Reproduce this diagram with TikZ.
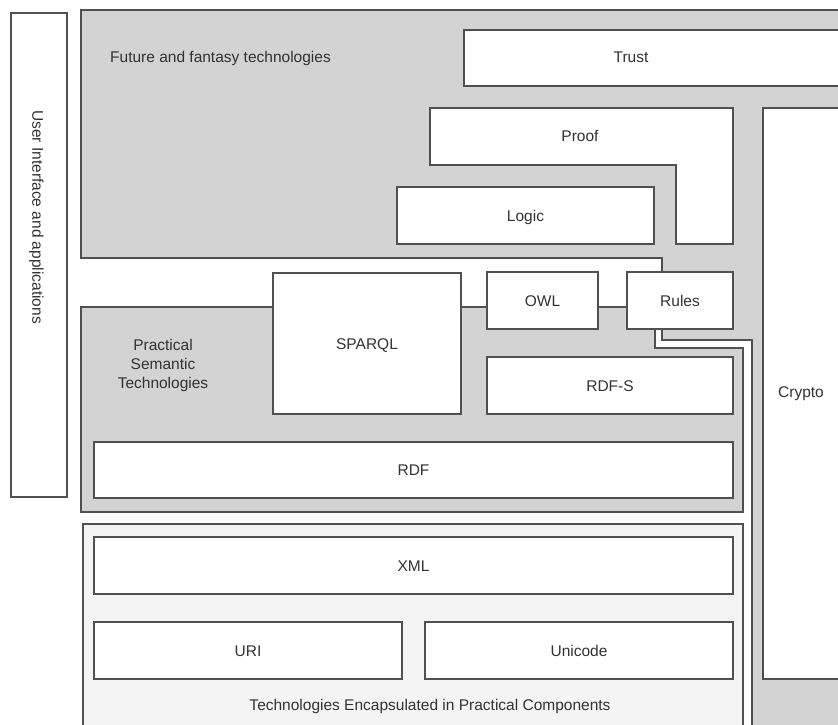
\documentclass[tikz,border=0pt]{standalone}
\usepackage{fontspec}
\setmainfont{Liberation Sans}
\definecolor{regiongray}{RGB}{211,211,211}
\definecolor{lightfill}{RGB}{244,244,244}
\definecolor{edge}{RGB}{80,80,80}
\definecolor{txt}{RGB}{50,50,50}
\begin{document}
\begin{tikzpicture}[x=1pt,y=-1pt,
  lbl/.style={font=\fontsize{15.5}{19}\selectfont, text=txt, inner sep=0pt, text height=11.1pt, text depth=0pt},
  region/.style={draw=edge, line width=1.3pt, fill=regiongray, line join=miter},
  lightregion/.style={draw=edge, line width=1.3pt, fill=lightfill},
  box/.style={draw=edge, line width=1.3pt, fill=white, inner sep=0pt, outer sep=0pt, anchor=north west,
              font=\fontsize{15.5}{19}\selectfont, text=txt, text height=11.1pt, text depth=0pt},
]
\useasboundingbox (0,0) rectangle (838,724);
\clip (0,0) rectangle (838,724);

% Future and fantasy technologies region
\draw[region] (81,10) -- (860,10) -- (860,740) -- (752,740) -- (752,340) -- (662,340) -- (662,258) -- (81,258) -- cycle;
% Practical semantic technologies region
\draw[region] (81,307) -- (655,307) -- (655,348) -- (743,348) -- (743,512) -- (81,512) -- cycle;
% Technologies encapsulated region
\draw[lightregion] (83,524) -- (743,524) -- (743,740) -- (83,740) -- cycle;

% User interface
\node[box, minimum width=56pt, minimum height=484pt] (ui) at (11,13) {};
\node[lbl, rotate=-90] (uitext) at (38,217) {User Interface and applications};

\node[lbl, anchor=west] (futuretext) at (110,57) {Future and fantasy technologies};

% Trust
\node[box, minimum width=400pt, minimum height=56pt] (trust) at (464,30) {};
\node[lbl] (trusttext) at (631,57) {Trust};

% Proof (L-shaped)
\draw[draw=edge, line width=1.3pt, fill=white] (430,108) -- (733,108) -- (733,244) -- (676,244) -- (676,165) -- (430,165) -- cycle;
\node[lbl] (prooftext) at (580,136) {Proof};

% Logic
\node[box, minimum width=257pt, minimum height=57pt] (logic) at (397,187) {Logic};

% Crypto
\node[box, minimum width=100pt, minimum height=571pt] (crypto) at (763,108) {};
\node[lbl] (cryptotext) at (801,392) {Crypto};

% Practical layer
\node[box, minimum width=188pt, minimum height=141pt] (sparql) at (273,273) {SPARQL};
\node[box, minimum width=111pt, minimum height=57pt] (owl) at (487,272) {OWL};
\node[box, minimum width=106pt, minimum height=57pt] (rules) at (627,272) {Rules};
\node[box, minimum width=246pt, minimum height=57pt] (rdfs) at (487,357) {RDF-S};
\node[box, minimum width=639pt, minimum height=56pt] (rdf) at (94,442) {RDF};
\node[font=\fontsize{15.5}{19}\selectfont, text=txt, align=center, inner sep=0pt] (practext) at (163,365) {Practical\\Semantic\\Technologies};

% Encapsulated layer
\node[box, minimum width=639pt, minimum height=57pt] (xml) at (94,537) {XML};
\node[box, minimum width=308pt, minimum height=57pt] (uri) at (94,622) {URI};
\node[box, minimum width=308pt, minimum height=57pt] (unicode) at (425,622) {Unicode};
\node[lbl] (techtext) at (430,705) {Technologies Encapsulated in Practical Components};
\end{tikzpicture}
\end{document}
